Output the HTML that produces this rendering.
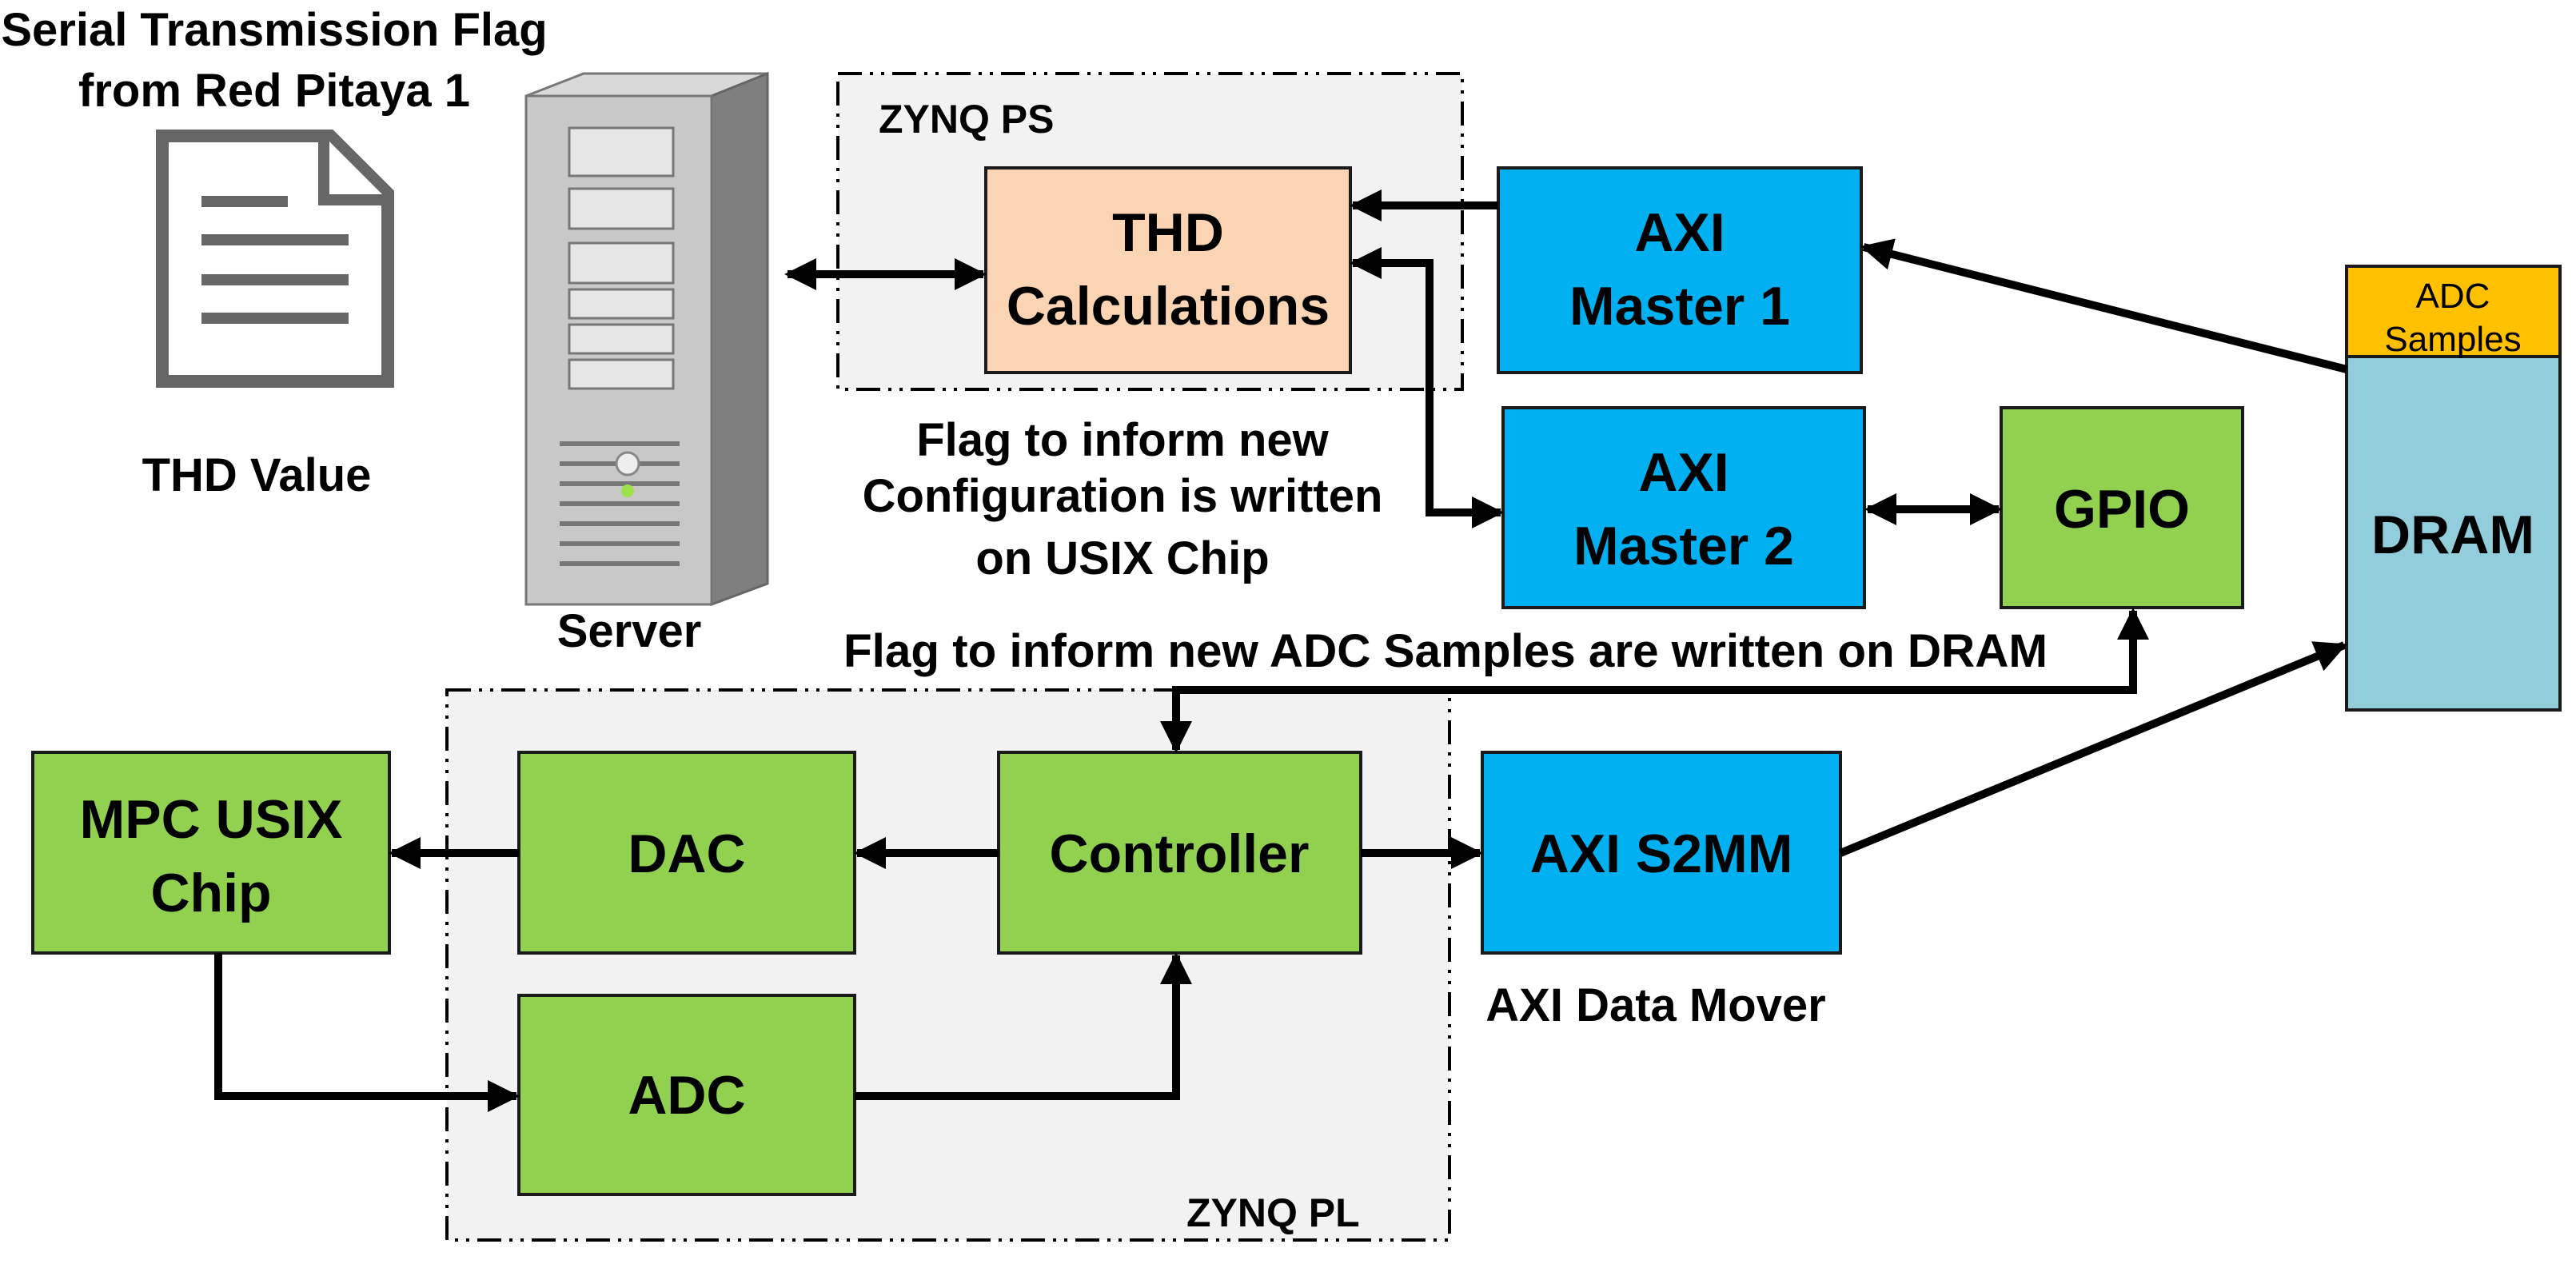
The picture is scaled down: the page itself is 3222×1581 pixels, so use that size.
<!DOCTYPE html>
<html><head><meta charset="utf-8"><style>
html,body{margin:0;padding:0;background:#fff;}
svg{display:block;}
text{font-family:"Liberation Sans",sans-serif;font-weight:bold;fill:#000;}
</style></head><body>
<svg width="3222" height="1581" viewBox="0 0 3222 1581" xmlns="http://www.w3.org/2000/svg">
<defs>
<marker id="ah" viewBox="0 0 10 10" refX="9" refY="5" markerWidth="4" markerHeight="4" orient="auto-start-reverse" markerUnits="strokeWidth">
<path d="M0,0 L10,5 L0,10 z" fill="#000"/>
</marker>
</defs>

<rect x="1048" y="92" width="781" height="395" fill="#f2f2f2" stroke="#000" stroke-width="4" stroke-dasharray="30,10,4,10,4,10"/>
<rect x="559" y="863" width="1254" height="688" fill="#f2f2f2" stroke="#000" stroke-width="4" stroke-dasharray="30,10,4,10,4,10"/>
<text x="1099" y="166" font-size="50">ZYNQ PS</text>
<text x="1484" y="1534" font-size="50">ZYNQ PL</text>

<g stroke="#1a1a1a" stroke-width="4">
<rect x="1233" y="210" width="456" height="256" fill="#fbd4b4"/>
<rect x="1874" y="210" width="454" height="256" fill="#00b0f0"/>
<rect x="1880" y="510" width="452" height="250" fill="#00b0f0"/>
<rect x="2503" y="510" width="302" height="250" fill="#92d050"/>
<rect x="2935" y="333" width="267" height="113" fill="#ffc000"/>
<rect x="2935" y="446" width="267" height="442" fill="#92cddc"/>
<rect x="41" y="941" width="446" height="251" fill="#92d050"/>
<rect x="649" y="941" width="420" height="251" fill="#92d050"/>
<rect x="1249" y="941" width="453" height="251" fill="#92d050"/>
<rect x="649" y="1245" width="420" height="249" fill="#92d050"/>
<rect x="1854" y="941" width="448" height="251" fill="#00b0f0"/>
</g>

<g font-size="68" text-anchor="middle">
<text x="1461" y="314">THD</text>
<text x="1461" y="406">Calculations</text>
<text x="2101" y="314">AXI</text>
<text x="2101" y="406">Master 1</text>
<text x="2106" y="614">AXI</text>
<text x="2106" y="706">Master 2</text>
<text x="2654" y="660">GPIO</text>
<text x="3068" y="692">DRAM</text>
<text x="264" y="1048">MPC USIX</text>
<text x="264" y="1140">Chip</text>
<text x="859" y="1091">DAC</text>
<text x="1475" y="1091">Controller</text>
<text x="859" y="1393">ADC</text>
<text x="2078" y="1091">AXI S2MM</text>
</g>
<g font-size="44" text-anchor="middle">
<text x="3068" y="385" style="font-weight:normal">ADC</text>
<text x="3068" y="439" style="font-weight:normal">Samples</text>
</g>

<g font-size="58" text-anchor="middle">
<text x="343" y="57">Serial Transmission Flag</text>
<text x="343" y="133">from Red Pitaya 1</text>
<text x="321" y="614">THD Value</text>
<text x="787" y="809">Server</text>
<text x="1404" y="570">Flag to inform new</text>
<text x="1404" y="640">Configuration is written</text>
<text x="1404" y="718">on USIX Chip</text>
<text x="1808" y="834" textLength="1506" lengthAdjust="spacingAndGlyphs">Flag to inform new ADC Samples are written on DRAM</text>
<text x="2071" y="1277">AXI Data Mover</text>
</g>

<g stroke="#000" stroke-width="10" fill="none" marker-end="url(#ah)">
<line x1="985" y1="343" x2="1230" y2="343" marker-start="url(#ah)"/>
<line x1="1874" y1="257" x2="1692" y2="257"/>
<polyline points="1692,329 1788,329 1788,641 1877,641" marker-start="url(#ah)"/>
<line x1="2935" y1="462" x2="2331" y2="309"/>
<line x1="2336" y1="637" x2="2500" y2="637" marker-start="url(#ah)"/>
<polyline points="2668,764 2668,863 1471,863 1471,938" marker-start="url(#ah)"/>
<line x1="1249" y1="1067" x2="1072" y2="1067"/>
<line x1="649" y1="1067" x2="490" y2="1067"/>
<line x1="1702" y1="1067" x2="1851" y2="1067"/>
<line x1="2302" y1="1067" x2="2932" y2="807"/>
<polyline points="273,1192 273,1371 646,1371"/>
<polyline points="1069,1371 1471,1371 1471,1195"/>
</g>

<g>
<path d="M203,170 L413,170 L485,242 L485,477 L203,477 Z" fill="#fff" stroke="#666" stroke-width="16" stroke-linejoin="miter"/>
<path d="M405,170 L405,250 L485,250" fill="#fff" stroke="#666" stroke-width="14"/>
<g stroke="#666" stroke-width="14">
<line x1="252" y1="252" x2="360" y2="252"/>
<line x1="252" y1="300" x2="436" y2="300"/>
<line x1="252" y1="350" x2="436" y2="350"/>
<line x1="252" y1="398" x2="436" y2="398"/>
</g>
</g>

<g>
<polygon points="658,120 890,120 960,92 730,92" fill="#d9d9d9" stroke="#777" stroke-width="3"/>
<polygon points="890,120 960,92 960,730 890,756" fill="#7f7f7f" stroke="#666" stroke-width="3"/>
<rect x="658" y="120" width="232" height="636" fill="#c8c8c8" stroke="#777" stroke-width="3"/>
<rect x="712" y="160" width="130" height="60" fill="#e6e6e6" stroke="#777" stroke-width="3"/>
<rect x="712" y="236" width="130" height="50" fill="#e6e6e6" stroke="#777" stroke-width="3"/>
<rect x="712" y="304" width="130" height="50" fill="#e6e6e6" stroke="#777" stroke-width="3"/>
<rect x="712" y="362" width="130" height="36" fill="#e6e6e6" stroke="#777" stroke-width="3"/>
<rect x="712" y="406" width="130" height="36" fill="#e6e6e6" stroke="#777" stroke-width="3"/>
<rect x="712" y="450" width="130" height="36" fill="#e6e6e6" stroke="#777" stroke-width="3"/>
<g stroke="#777" stroke-width="6">
<line x1="700" y1="555" x2="850" y2="555"/>
<line x1="700" y1="580" x2="850" y2="580"/>
<line x1="700" y1="605" x2="850" y2="605"/>
<line x1="700" y1="630" x2="850" y2="630"/>
<line x1="700" y1="655" x2="850" y2="655"/>
<line x1="700" y1="680" x2="850" y2="680"/>
<line x1="700" y1="705" x2="850" y2="705"/>
</g>
<circle cx="785" cy="580" r="14" fill="#eee" stroke="#888" stroke-width="3"/>
<circle cx="785" cy="614" r="8" fill="#9be24a"/>
</g>
</svg>
</body></html>
